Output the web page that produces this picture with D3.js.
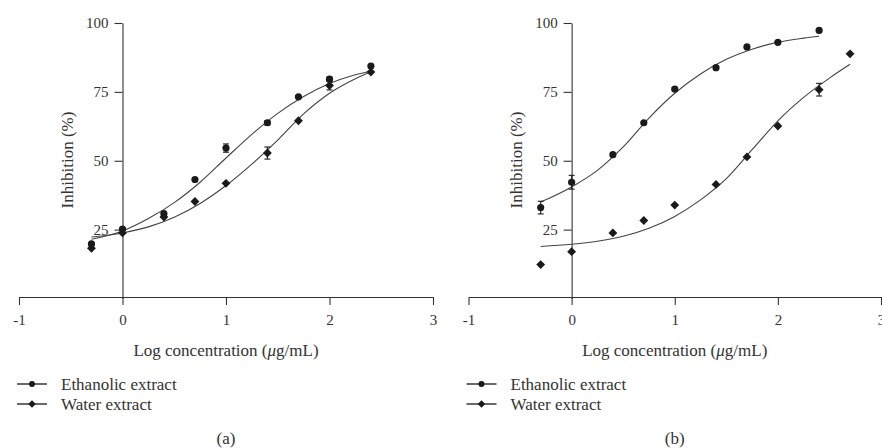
<!DOCTYPE html>
<html>
<head>
    <title>Inhibition vs log concentration</title>
    <script src="https://d3js.org/d3.v7.min.js"></script>
    <style>
        body { margin: 0; background: #fff; }
        text { font-family: "Liberation Serif", "Times New Roman", serif; fill: #333; }
    </style>
</head>
<body>
    <svg id="chart" width="882" height="448"></svg>
    <script>
        // measured points (log concentration, % inhibition)
        const xsA = [-0.3, 0, 0.4, 0.7, 1.0, 1.4, 1.7, 2.0, 2.4];
        const ethanolA = [19.8, 25.2, 30.8, 43.2, 54.6, 63.8, 73.2, 79.6, 84.4];
        const ethanolAErr = [0, 0, 0, 0, 1.5, 0.8, 0, 0.8, 0];
        const waterA = [18.2, 23.8, 29.6, 35.2, 41.8, 52.8, 64.5, 77.3, 82.2];
        const waterAErr = [0, 0, 0, 0, 0, 2.2, 0, 1.6, 0];

        const xsEthB = [-0.3, 0, 0.4, 0.7, 1.0, 1.4, 1.7, 2.0, 2.4];
        const ethanolB = [33, 42.2, 52.2, 63.8, 76, 83.8, 91.3, 93, 97.3];
        const ethanolBErr = [2.3, 2.5, 0, 0, 0.6, 0, 0, 0, 0];
        const xsWatB = [-0.3, 0, 0.4, 0.7, 1.0, 1.4, 1.7, 2.0, 2.4, 2.7];
        const waterB = [12.3, 17, 23.8, 28.3, 33.9, 41.4, 51.4, 62.6, 75.8, 88.8];
        const waterBErr = [0, 0, 0, 0, 0, 0, 0, 0, 2.3, 0];

        // fitted curves
        const fitX = [-0.3, 0, 0.25, 0.5, 0.75, 1, 1.25, 1.5, 1.75, 2, 2.25, 2.4];
        const fitEthA = [21.5, 24.5, 29, 34.8, 42.2, 51, 59.6, 67.2, 73.3, 78, 81.2, 82.6];
        const fitWatA = [22.3, 23.8, 26, 29.5, 34.5, 41, 48.8, 57.5, 67, 74.5, 79.8, 82.3];
        const fitEthB = [35, 40.5, 46.5, 55, 65.5, 74.5, 81.5, 86.8, 90.5, 93, 94.5, 95.2];
        const fitXWatB = [-0.3, 0, 0.25, 0.5, 0.75, 1, 1.25, 1.5, 1.75, 2, 2.25, 2.5, 2.7];
        const fitWatB = [18.9, 19.7, 20.8, 22.6, 25.5, 29.8, 35.8, 43.5, 54, 64.5, 73, 80, 85];

        const xTicks = [-1, 0, 1, 2, 3];
        const yTicks = [25, 50, 75, 100];
        const seriesNames = ["Ethanolic extract", "Water extract"];
        const panelLabels = ["(a)", "(b)"];

        const svg = d3.select("#chart");
        const ink = "#1a1a1a";

        const panels = [
            { x0: 19, x1: 433, label: panelLabels[0],
              eth: { xs: xsA, ys: ethanolA, err: ethanolAErr, fx: fitX, fy: fitEthA },
              wat: { xs: xsA, ys: waterA, err: waterAErr, fx: fitX, fy: fitWatA } },
            { x0: 468.5, x1: 881, label: panelLabels[1],
              eth: { xs: xsEthB, ys: ethanolB, err: ethanolBErr, fx: fitX, fy: fitEthB },
              wat: { xs: xsWatB, ys: waterB, err: waterBErr, fx: fitXWatB, fy: fitWatB } }
        ];

        const y = d3.scaleLinear().domain([0, 100]).range([298.5, 23]);
        const diamond = d3.symbol().type(d3.symbolDiamond2).size(50);

        panels.forEach(p => {
            const x = d3.scaleLinear().domain([-1, 3]).range([p.x0, p.x1]);
            const g = svg.append("g");

            // axes
            const xa = g.append("g").attr("transform", "translate(0,297)")
                .call(d3.axisBottom(x).tickValues(xTicks).tickFormat(d => String(d))
                    .tickSize(8).tickSizeOuter(0).tickPadding(9));
            const ya = g.append("g").attr("transform", `translate(${x(0)},0)`)
                .call(d3.axisLeft(y).tickValues(yTicks).tickSize(8).tickSizeOuter(0).tickPadding(6));
            [xa, ya].forEach(a => {
                a.selectAll("path, line").attr("stroke", "#333").attr("stroke-width", 1.1);
                a.selectAll("text").style("font-size", "15px").style("font-family", "Liberation Serif").attr("fill", "#333");
            });

            g.append("text").attr("x", (x(-1) + x(3)) / 2).attr("y", 356)
                .attr("text-anchor", "middle").style("font-size", "17px")
                .html('Log concentration (<tspan font-style="italic">μ</tspan>g/mL)');
            g.append("text").attr("transform", `translate(${x(0) - 50},160) rotate(-90)`)
                .attr("text-anchor", "middle").style("font-size", "17px").text("Inhibition (%)");

            // fitted curves
            const line = d3.line().x(d => x(d[0])).y(d => y(d[1])).curve(d3.curveMonotoneX);
            [p.eth, p.wat].forEach(s => {
                g.append("path").datum(d3.zip(s.fx, s.fy)).attr("d", line)
                    .attr("fill", "none").attr("stroke", "#444").attr("stroke-width", 1.1);
            });

            // error bars
            [p.eth, p.wat].forEach(s => {
                const eb = g.append("g").selectAll("g").data(d3.zip(s.xs, s.ys, s.err).filter(d => d[2] > 0))
                    .join("g").attr("stroke", ink).attr("stroke-width", 1.1);
                eb.append("line").attr("x1", d => x(d[0])).attr("x2", d => x(d[0]))
                    .attr("y1", d => y(d[1] - d[2])).attr("y2", d => y(d[1] + d[2]));
                eb.append("line").attr("x1", d => x(d[0]) - 3).attr("x2", d => x(d[0]) + 3)
                    .attr("y1", d => y(d[1] + d[2])).attr("y2", d => y(d[1] + d[2]));
                eb.append("line").attr("x1", d => x(d[0]) - 3).attr("x2", d => x(d[0]) + 3)
                    .attr("y1", d => y(d[1] - d[2])).attr("y2", d => y(d[1] - d[2]));
            });

            // markers
            g.append("g").selectAll("path").data(d3.zip(p.wat.xs, p.wat.ys)).join("path")
                .attr("d", diamond).attr("fill", ink)
                .attr("transform", d => `translate(${x(d[0])},${y(d[1])})`);
            g.append("g").selectAll("circle").data(d3.zip(p.eth.xs, p.eth.ys)).join("circle")
                .attr("cx", d => x(d[0])).attr("cy", d => y(d[1])).attr("r", 3.6).attr("fill", ink);

            // legend
            const lx = p.x0 - 2;
            seriesNames.forEach((name, i) => {
                const ly = 384 + i * 20;
                g.append("line").attr("x1", lx).attr("x2", lx + 30).attr("y1", ly).attr("y2", ly)
                    .attr("stroke", ink).attr("stroke-width", 1.3);
                if (i === 0) {
                    g.append("circle").attr("cx", lx + 15).attr("cy", ly).attr("r", 3).attr("fill", ink);
                } else {
                    g.append("path").attr("d", d3.symbol().type(d3.symbolDiamond2).size(36))
                        .attr("transform", `translate(${lx + 15},${ly})`).attr("fill", ink);
                }
                g.append("text").attr("x", lx + 44).attr("y", ly).attr("dy", "0.35em")
                    .style("font-size", "17px").text(name);
            });

            g.append("text").attr("x", (x(-1) + x(3)) / 2).attr("y", 438).attr("dy", "0.35em")
                .attr("text-anchor", "middle").style("font-size", "17px").text(p.label);
        });
    </script>
</body>
</html>
